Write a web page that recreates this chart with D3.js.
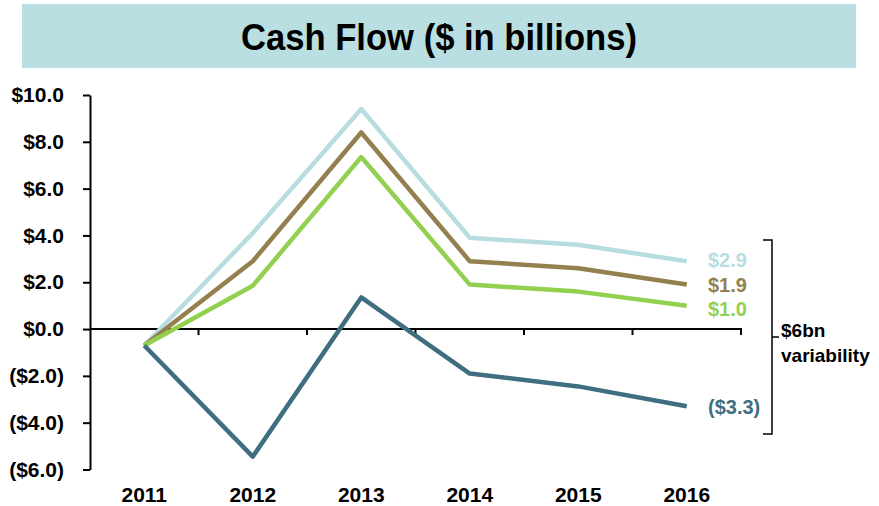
<!DOCTYPE html>
<html lang="en">
  <head>
    <meta charset="UTF-8" />
    <title>Cash Flow</title>
    <style>
      body { margin: 0; background: #fff; }
      svg { display: block; font-family: "Liberation Sans", Arial, sans-serif; }
      .tick text { font-weight: bold; }
    </style>
    <script src="https://cdn.jsdelivr.net/npm/d3@7"></script>
  </head>
  <body>
    <div class="container"></div>
    <script>
      const years = ["2011", "2012", "2013", "2014", "2015", "2016"];
      const highCase = [-0.7, 4.1, 9.4, 3.9, 3.6, 2.9];
      const midCase = [-0.7, 2.9, 8.4, 2.9, 2.6, 1.9];
      const baseCase = [-0.7, 1.85, 7.35, 1.9, 1.6, 1.0];
      const lowCase = [-0.7, -5.45, 1.35, -1.9, -2.45, -3.3];
      const endLabels = ["$2.9", "$1.9", "$1.0", "($3.3)"];
      const yTicks = [-6, -4, -2, 0, 2, 4, 6, 8, 10];

      // nudge keeps the stacked end labels from touching
      const series = [
        { vals: highCase, color: "#b7dde0", label: endLabels[0], nudge: -1 },
        { vals: midCase, color: "#947f4f", label: endLabels[1], nudge: 0 },
        { vals: baseCase, color: "#92d050", label: endLabels[2], nudge: 3 },
        { vals: lowCase, color: "#3e6e80", label: endLabels[3], nudge: 1 }
      ];

      const width = 879, height = 506;
      const svg = d3.select(".container").append("svg")
        .attr("width", width).attr("height", height);

      // title band
      svg.append("rect").attr("x", 22).attr("y", 4).attr("width", 834).attr("height", 64)
        .attr("fill", "#b9dfe2");
      svg.append("text").attr("x", 439).attr("y", 50).attr("text-anchor", "middle")
        .attr("font-size", 37).attr("font-weight", "bold")
        .attr("textLength", 396).attr("lengthAdjust", "spacingAndGlyphs")
        .text("Cash Flow ($ in billions)");

      const x = d3.scaleBand().domain(years).range([90, 741]);
      const y = d3.scaleLinear().domain([-6, 10]).range([469.5, 95]);

      const fmt = v => v < 0 ? "($" + Math.abs(v).toFixed(1) + ")" : "$" + v.toFixed(1);

      const yAxis = svg.append("g").attr("transform", "translate(90,0)")
        .call(d3.axisLeft(y).tickValues(yTicks).tickFormat(fmt).tickSize(7).tickSizeOuter(0).tickPadding(19));
      yAxis.selectAll("text").attr("font-size", 21).attr("fill", "#000");
      yAxis.selectAll("line, path").attr("stroke", "#000").attr("stroke-width", 2);

      // zero line with ticks at band edges
      const zeroY = y(0);
      svg.append("line").attr("x1", 90).attr("x2", 742).attr("y1", zeroY).attr("y2", zeroY)
        .attr("stroke", "#000").attr("stroke-width", 2);
      svg.selectAll(".xtick").data(years).enter().append("line")
        .attr("x1", d => x(d) + x.bandwidth()).attr("x2", d => x(d) + x.bandwidth())
        .attr("y1", zeroY).attr("y2", zeroY + 6)
        .attr("stroke", "#000").attr("stroke-width", 2);

      svg.selectAll(".xlabel").data(years).enter().append("text")
        .attr("x", d => x(d) + x.bandwidth() / 2).attr("y", 502)
        .attr("text-anchor", "middle").attr("font-size", 21).attr("font-weight", "bold")
        .text(d => d);

      const line = d3.line()
        .x((d, i) => x(years[i]) + x.bandwidth() / 2)
        .y(d => y(d));

      svg.selectAll(".series").data(series).enter().append("path")
        .attr("d", d => line(d.vals))
        .attr("fill", "none").attr("stroke", d => d.color)
        .attr("stroke-width", 4.5).attr("stroke-linejoin", "round");

      svg.selectAll(".endlabel").data(series).enter().append("text")
        .attr("x", 708).attr("y", d => y(d.vals[5]) + 7 + d.nudge)
        .attr("font-size", 20).attr("font-weight", "bold").attr("fill", d => d.color)
        .text(d => d.label);

      // variability bracket
      const br = d3.path();
      br.moveTo(763, 240); br.lineTo(772, 240); br.lineTo(772, 434); br.lineTo(763, 434);
      br.moveTo(772, 337); br.lineTo(779, 337);
      svg.append("path").attr("d", br.toString()).attr("fill", "none")
        .attr("stroke", "#000").attr("stroke-width", 1.5);
      svg.append("text").attr("x", 781).attr("y", 337).attr("font-size", 19).attr("font-weight", "bold").text("$6bn");
      svg.append("text").attr("x", 781).attr("y", 362).attr("font-size", 19).attr("font-weight", "bold").text("variability");
    </script>
  </body>
</html>
